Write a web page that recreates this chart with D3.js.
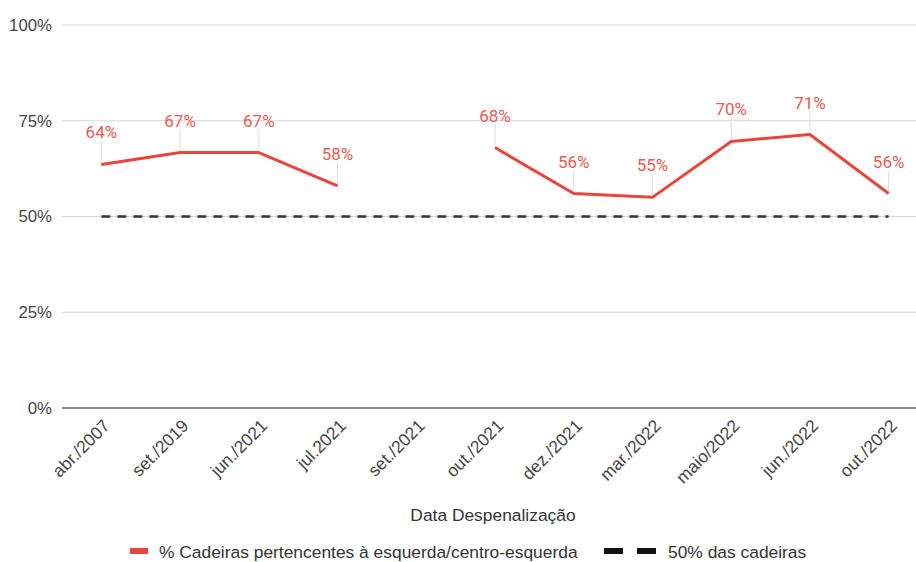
<!DOCTYPE html>
<html><head><meta charset="utf-8">
<script src="https://cdn.jsdelivr.net/npm/d3@7"></script>
<style>body{margin:0;background:#fff}svg{display:block}</style>
</head><body>
<script>
const categories = ["abr./2007","set./2019","jun./2021","jul.2021","set./2021","out./2021","dez./2021","mar./2022","maio/2022","jun./2022","out./2022"];
const seriesLeft = [0.636,0.667,0.667,0.58,null,0.68,0.56,0.55,0.696,0.714,0.56];
const seriesHalf = [0.5,0.5,0.5,0.5,0.5,0.5,0.5,0.5,0.5,0.5,0.5];
const yTicks = [0,0.25,0.5,0.75,1];
const xTitle = "Data Despenalização";
const legendLabels = ["% Cadeiras pertencentes à esquerda/centro-esquerda","50% das cadeiras"];

const W=916,H=562;
const svg=d3.select("body").append("svg").attr("width",W).attr("height",H);
const x=d3.scalePoint().domain(categories).range([62,928]).padding(0.5);
const y=d3.scaleLinear().domain([0,1]).range([408,25]);
const sans="Arial, 'Liberation Sans', sans-serif";
const fs=17.4;

// gridlines
svg.append("g").selectAll("line").data(yTicks.filter(d=>d>0)).join("line")
  .attr("x1",62).attr("x2",W).attr("y1",d=>y(d)).attr("y2",d=>y(d))
  .attr("stroke","#d4d4d4").attr("stroke-width",1);
// y axis labels
const yAxis=d3.axisLeft(y).tickValues(yTicks).tickFormat(d3.format(".0%")).tickSize(0).tickPadding(10);
const gy=svg.append("g").attr("transform","translate(62,0)").call(yAxis);
gy.select(".domain").remove();
gy.selectAll("text").attr("font-family",sans).attr("font-size",16.8).attr("fill","#444");
// zero line
svg.append("line").attr("x1",62).attr("x2",W).attr("y1",y(0)).attr("y2",y(0))
  .attr("stroke","#8a8a8a").attr("stroke-width",2);

// x axis
const xAxis=d3.axisBottom(x).tickSize(0).tickPadding(0);
const gx=svg.append("g").attr("transform",`translate(0,${y(0)})`).call(xAxis);
gx.select(".domain").remove();
gx.selectAll("text").attr("font-family",sans).attr("font-size",fs).attr("fill","#444")
  .attr("text-anchor","end").attr("dy",0)
  .attr("transform","translate(9,19) rotate(-45)");

// 50% dashed
const line=d3.line().defined(d=>d.v!=null).x(d=>x(d.c)).y(d=>y(d.v));
svg.append("path").datum(categories.map((c,i)=>({c,v:seriesHalf[i]})))
  .attr("d",line).attr("fill","none").attr("stroke","#333").attr("stroke-width",2.5)
  .attr("stroke-dasharray","9,7");

// leader lines
const pts=categories.map((c,i)=>({c,v:seriesLeft[i]})).filter(d=>d.v!=null);
svg.append("g").selectAll("line").data(pts).join("line")
  .attr("x1",d=>x(d.c)).attr("x2",d=>x(d.c)).attr("y1",d=>y(d.v)).attr("y2",d=>y(d.v)-23)
  .attr("stroke","#dcdcdc").attr("stroke-width",1);

// main line
svg.append("path").datum(categories.map((c,i)=>({c,v:seriesLeft[i]})))
  .attr("d",line).attr("fill","none").attr("stroke","#e8453c").attr("stroke-width",3)
  .attr("stroke-linejoin","round");

// labels
svg.append("g").selectAll("text").data(pts).join("text")
  .attr("x",d=>x(d.c)).attr("y",d=>y(d.v)-26).attr("text-anchor","middle")
  .attr("font-family","Roboto, sans-serif").attr("font-size",17).attr("fill","#ea5a52")
  .text(d=>d3.format(".0%")(d.v));

// x title
svg.append("text").attr("x",493).attr("y",521).attr("text-anchor","middle")
  .attr("font-family",sans).attr("font-size",fs).attr("fill","#333").text(xTitle);

// legend
const lg=svg.append("g");
lg.append("rect").attr("x",130).attr("y",548).attr("width",18).attr("height",6).attr("fill","#e8453c");
lg.append("text").attr("x",159).attr("y",558).attr("font-family",sans).attr("font-size",fs).attr("fill","#333").text(legendLabels[0]);
lg.append("rect").attr("x",604).attr("y",548).attr("width",19).attr("height",6).attr("fill","#111");
lg.append("rect").attr("x",637).attr("y",548).attr("width",19).attr("height",6).attr("fill","#111");
lg.append("text").attr("x",668).attr("y",558).attr("font-family",sans).attr("font-size",fs).attr("fill","#333").text(legendLabels[1]);
</script>
</body></html>
